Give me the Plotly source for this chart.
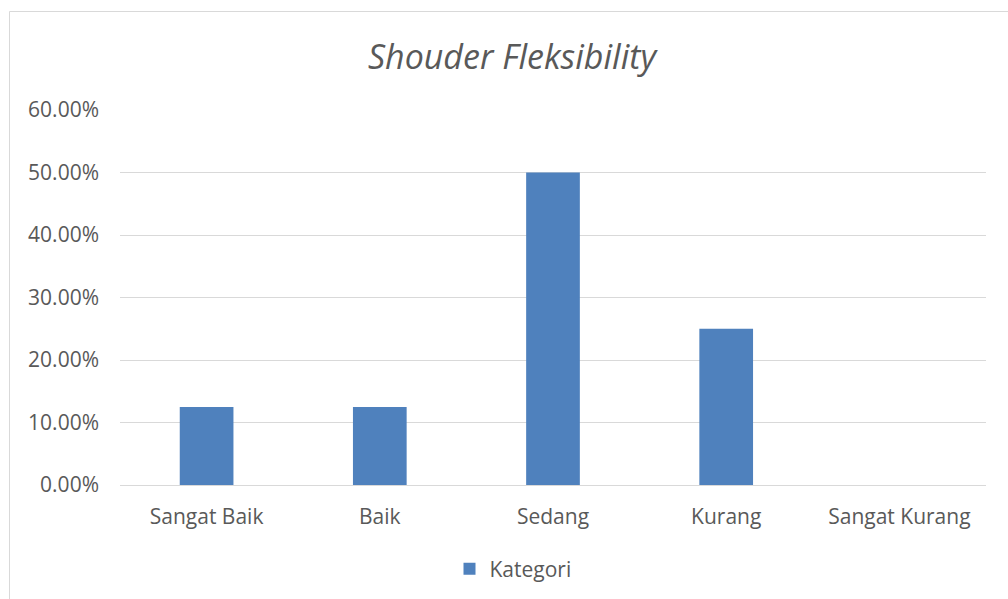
import plotly.graph_objects as go

categories = ["Sangat Baik", "Baik", "Sedang", "Kurang", "Sangat Kurang"]
values = [0.125, 0.125, 0.50, 0.25, 0.0]
series_name = "Kategori"
y_ticks = [0, 0.1, 0.2, 0.3, 0.4, 0.5, 0.6]

W, H = 1008, 599
ml, mr, mt, mb = 120, 22, 110, 114
FONT = "Open Sans"
TXT = "#595959"
FS = 21

fig = go.Figure(go.Bar(
    x=categories, y=values, name=series_name,
    marker=dict(color="#4F81BD", line=dict(width=0)),
    showlegend=True,
))

pw = W - ml - mr
ph = H - mt - mb
def px_to_paper_x(px):
    return (px - ml) / pw
def py_to_paper_y(py):
    return (H - mb - py) / ph

fig.update_layout(
    width=W, height=H,
    margin=dict(l=ml, r=mr, t=mt, b=mb),
    paper_bgcolor="white", plot_bgcolor="white",
    font=dict(family=FONT, color=TXT, size=FS),
    bargap=0.69,
    title=dict(text="Shouder Fleksibility", x=512 / W, xref="container", xanchor="center",
               y=1 - 57 / H, yref="container", yanchor="middle",
               font=dict(family=FONT, size=34, color=TXT, style="italic")),
    xaxis=dict(showgrid=False, zeroline=False, showline=False, ticks="",
               tickfont=dict(size=FS, color=TXT), ticklabelstandoff=17),
    yaxis=dict(range=[0, 0.6], tickvals=y_ticks, tickformat=".2%",
               showgrid=True, gridcolor="#D9D9D9", gridwidth=1.3,
               zeroline=True, zerolinecolor="#D9D9D9", zerolinewidth=1.3,
               showline=False, ticks="", tickfont=dict(size=FS, color=TXT),
               ticklabelstandoff=20),
    legend=dict(orientation="h", x=513 / W, xref="container", xanchor="center",
                y=1 - 569 / H, yref="container", yanchor="middle",
                font=dict(size=FS, color=TXT), itemwidth=30),
    shapes=[dict(type="rect", xref="paper", yref="paper",
                 x0=px_to_paper_x(9.5), x1=px_to_paper_x(1020),
                 y0=py_to_paper_y(620), y1=py_to_paper_y(11.5),
                 line=dict(color="#D9D9D9", width=1), fillcolor="rgba(0,0,0,0)",
                 layer="below")],
)

fig.write_html("out.html")
